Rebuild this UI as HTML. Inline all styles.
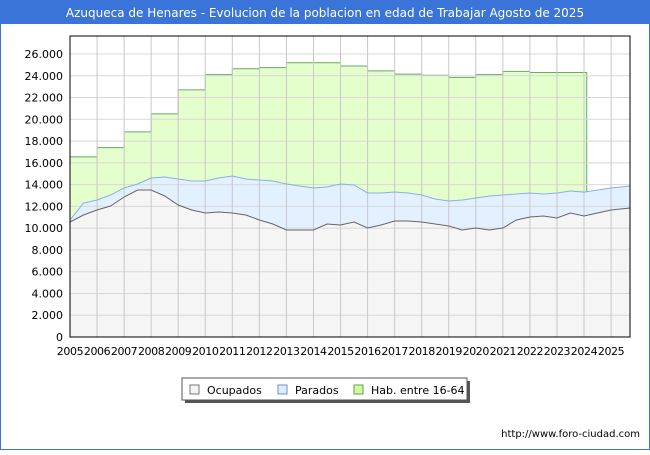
<!DOCTYPE html>
<html><head><meta charset="utf-8"><style>
body{margin:0;width:650px;height:450px;overflow:hidden;background:#fff;font-family:"Liberation Sans","DejaVu Sans",sans-serif}
</style></head><body>
<svg width="650" height="450" xmlns="http://www.w3.org/2000/svg">
<rect x="0.5" y="0.5" width="649" height="449" fill="#fff" stroke="#3a74d8"/>
<rect x="0" y="0" width="650" height="24" fill="#3a74d8"/>
<text x="325" y="17" text-anchor="middle" fill="#fff" font-size="12" font-family="DejaVu Sans, sans-serif">Azuqueca de Henares - Evolucion de la poblacion en edad de Trabajar Agosto de 2025</text>
<g id="plot"></g>
<g>
<rect x="185" y="381" width="285" height="22" fill="#555"/>
<rect x="182" y="378" width="285" height="22" fill="#fff" stroke="#555"/>
<rect x="190" y="385" width="9" height="9" fill="#f4f4f4" stroke="#777"/>
<text x="207" y="394" font-size="11" font-family="DejaVu Sans, sans-serif">Ocupados</text>
<rect x="278" y="385" width="9" height="9" fill="#ddeeff" stroke="#6f8fcf"/>
<text x="295" y="394" font-size="11" font-family="DejaVu Sans, sans-serif">Parados</text>
<rect x="354" y="385" width="9" height="9" fill="#ccff99" stroke="#6a9a5a"/>
<text x="371" y="394" font-size="11" font-family="DejaVu Sans, sans-serif">Hab. entre 16-64</text>
</g>
<text x="640" y="437" text-anchor="end" font-size="10" font-family="DejaVu Sans, sans-serif">http://www.foro-ciudad.com</text>
</svg>
<script>
const times=[2005,2005.5,2006,2006.5,2007,2007.5,2008,2008.5,2009,2009.5,2010,2010.5,2011,2011.5,2012,2012.5,2013,2013.5,2014,2014.5,2015,2015.5,2016,2016.5,2017,2017.5,2018,2018.5,2019,2019.5,2020,2020.5,2021,2021.5,2022,2022.5,2023,2023.5,2024,2024.5,2025,2025.7];
const ocupados=[10565,11208,11667,12035,12862,13505,13505,12954,12127,11667,11392,11484,11392,11208,10749,10381,9830,9830,9830,10381,10289,10565,10014,10289,10657,10657,10565,10381,10197,9830,10014,9830,10014,10749,11024,11116,10932,11392,11116,11392,11667,11851];
const parados=[180,1100,920,1010,830,550,1100,1750,2390,2660,2940,3120,3400,3310,3670,3950,4230,4040,3860,3400,3770,3400,3220,2940,2660,2570,2480,2300,2300,2760,2760,3120,3030,2390,2200,2020,2300,2020,2200,2110,2020,2020];
const habYears=[2005,2006,2007,2008,2009,2010,2011,2012,2013,2014,2015,2016,2017,2018,2019,2020,2021,2022,2023];
const hab=[16550,17400,18850,20500,22700,24100,24650,24750,25200,25200,24900,24450,24150,24050,23850,24100,24400,24300,24300];
const habEnd=2024.1;
const yTicks=[0,2000,4000,6000,8000,10000,12000,14000,16000,18000,20000,22000,24000,26000];
const xTicks=[2005,2006,2007,2008,2009,2010,2011,2012,2013,2014,2015,2016,2017,2018,2019,2020,2021,2022,2023,2024,2025];
const L=70,R=630,T=36,B=337;
const X=t=>L+(t-2005)*(R-L)/20.7;
const Y=v=>B-v*(B-54)/26000;
const g=document.getElementById('plot');
const NS='http://www.w3.org/2000/svg';
function mk(tag,at,txt){const e=document.createElementNS(NS,tag);for(const k in at)e.setAttribute(k,at[k]);if(txt!==undefined)e.textContent=txt;g.appendChild(e);return e;}
mk('rect',{x:L,y:T,width:R-L,height:B-T,fill:'#fff'});
let hp=`M${X(habYears[0])},${Y(0)}`;
hab.forEach((v,i)=>{const x0=X(habYears[i]),x1=X(i+1<hab.length?habYears[i+1]:habEnd);hp+=` L${x0},${Y(v)} L${x1},${Y(v)}`;});
hp+=` L${X(habEnd)},${Y(0)} Z`;
let e=mk('path',{d:hp,fill:'#e4ffcc',stroke:'#66aa66','stroke-width':1});


const topv=ocupados.map((o,i)=>o+parados[i]);
let tp=times.map((t,i)=>`${i?'L':'M'}${X(t)},${Y(topv[i])}`).join(' ');
e=mk('path',{d:tp+` L${X(times[times.length-1])},${Y(0)} L${X(times[0])},${Y(0)} Z`,fill:'#e2f0ff'});


let op=times.map((t,i)=>`${i?'L':'M'}${X(t)},${Y(ocupados[i])}`).join(' ');
e=mk('path',{d:op+` L${X(times[times.length-1])},${Y(0)} L${X(times[0])},${Y(0)} Z`,fill:'#f5f5f5'});


yTicks.forEach(v=>{mk('line',{x1:L,x2:R,y1:Y(v),y2:Y(v),stroke:'#d8d8d8'});
const t=mk('text',{x:63,y:Y(v)+4,'text-anchor':'end','font-size':11,'font-family':'DejaVu Sans, sans-serif'},v===0?'0':v.toLocaleString('de-DE'));

});
xTicks.forEach(y=>{mk('line',{x1:X(y),x2:X(y),y1:T,y2:B,stroke:'#c8c8c8'});
const t=mk('text',{x:X(y),y:355,'text-anchor':'middle','font-size':11,'font-family':'DejaVu Sans, sans-serif','letter-spacing':'-0.4'},String(y));

});
e=mk('path',{d:tp,fill:'none',stroke:'#8aaee8','stroke-width':1});


e=mk('path',{d:op,fill:'none',stroke:'#666','stroke-width':1});


mk('rect',{x:L,y:T,width:R-L,height:B-T,fill:'none',stroke:'#000'});
</script>
</body></html>
